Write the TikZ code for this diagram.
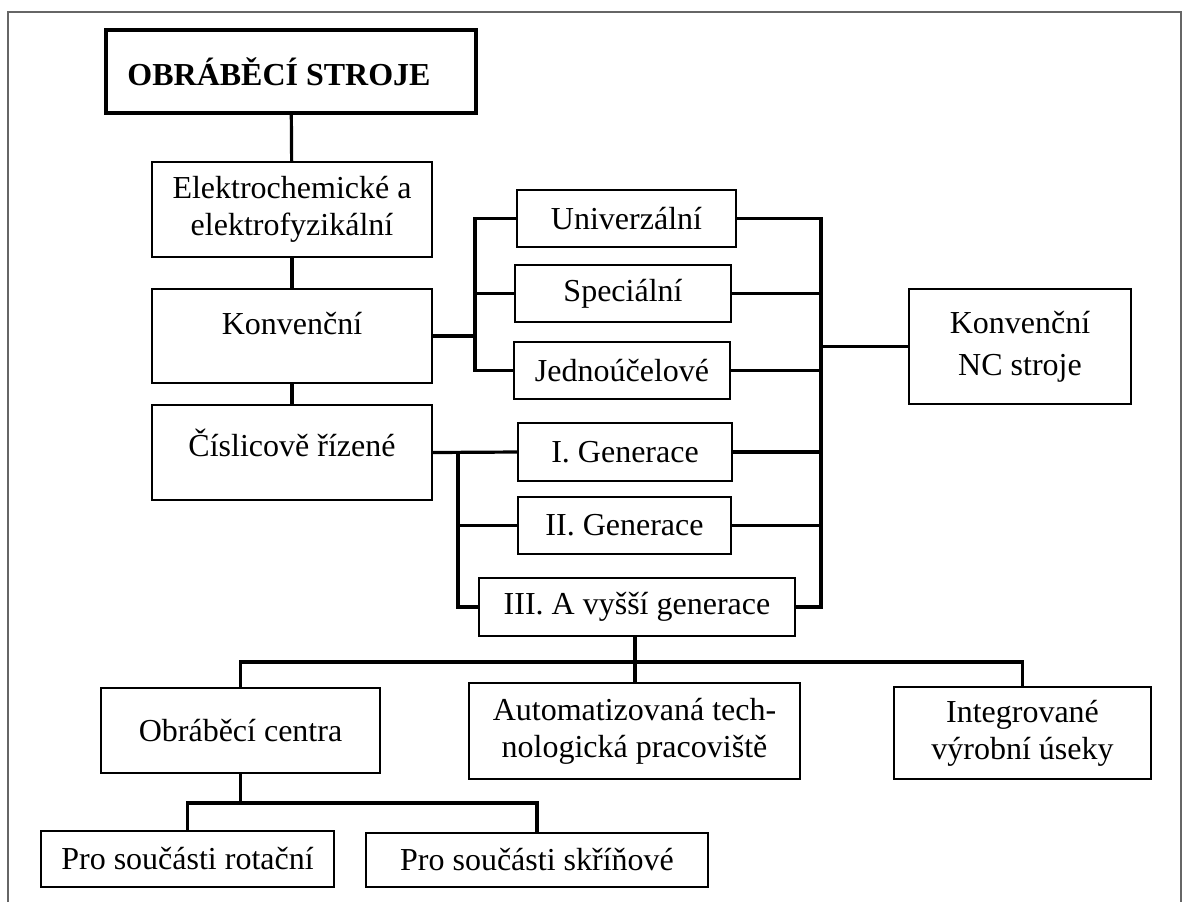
\documentclass[tikz,border=0pt]{standalone}
\usepackage{fontspec}
\setmainfont{Liberation Serif}
\usepackage{tikz}
\usetikzlibrary{positioning, calc}

\begin{document}
\begin{tikzpicture}[
    x=0.5pt, y=-0.5pt,
    box/.style={draw, line width=0.8pt, inner sep=1pt, align=center, font=\fontsize{16}{18.5}\selectfont},
    bigbox/.style={box, line width=2pt, font=\fontsize{16}{18.5}\selectfont\bfseries},
    ln/.style={line width=1.6pt},
    txtup/.style={text depth=#1},
]
\useasboundingbox (0,0) rectangle (1183,902);

% Frame
\draw[gray!80!black, line width=0.6pt] (8,902) -- (8,12) -- (1181,12) -- (1181,902);

% Main column
\node[bigbox, minimum width=185pt, minimum height=41.5pt] (stroje) at (291,71.5) {OBRÁBĚCÍ STROJE\hspace*{12pt}};
\node[box, minimum width=140pt, minimum height=47.5pt] (elektro) at (292,209.5) {Elektrochemické a\\elektrofyzikální};
\node[box, minimum width=140pt, minimum height=47pt, txtup=13pt] (konv) at (292,336) {Konvenční};
\node[box, minimum width=140pt, minimum height=47.5pt, txtup=10pt] (cisl) at (292,452.5) {Číslicově řízené};

\draw[ln] (stroje) -- (elektro);
\draw[ln] (elektro) -- (konv);
\draw[ln] (konv) -- (cisl);

% Conventional branch
\node[box, minimum width=109.5pt, minimum height=28.5pt] (univ) at (626.5,218.5) {Univerzální};
\node[box, minimum width=108pt, minimum height=28.5pt] (spec) at (623,293.5) {Speciální};
\node[box, minimum width=108pt, minimum height=28.5pt] (jedn) at (622,370.5) {Jednoúčelové};

\coordinate (kbus) at (475,336);
\draw[ln] (konv.east) -- (kbus);
\draw[ln] (univ.west) -| (kbus) |- (jedn.west);
\draw[ln] (spec.west) -- (spec.west -| kbus);

% NC branch
\node[box, minimum width=107pt, minimum height=29pt] (gen1) at (625,452) {I. Generace};
\node[box, minimum width=106.5pt, minimum height=28.5pt] (gen2) at (624.5,525.5) {II. Generace};
\node[box, minimum width=158pt, minimum height=29pt] (gen3) at (637,607) {III. A vyšší generace};

\coordinate (cbus) at (458,452);
\draw[ln] (cisl.east) -- (gen1.west);
\draw[ln] (cbus) |- (gen3.west);
\draw[ln] (gen2.west) -- (gen2.west -| cbus);

% Right collector
\node[box, minimum width=111pt, minimum height=57.5pt] (knc) at (1020,346.5) {Konvenční\\[2.5pt]NC stroje};

\coordinate (rbus) at (821,346.5);
\draw[ln] (univ.east) -| (rbus) |- (gen3.east);
\draw[ln] (spec.east) -- (spec.east -| rbus);
\draw[ln] (jedn.east) -- (jedn.east -| rbus);
\draw[ln] (gen1.east) -- (gen1.east -| rbus);
\draw[ln] (gen2.east) -- (gen2.east -| rbus);
\draw[ln] (rbus) -- (knc.west);

% Bottom row
\node[box, minimum width=139.5pt, minimum height=42.5pt] (centra) at (240.5,730.5) {Obráběcí centra};
\node[box, minimum width=165.5pt, minimum height=48pt] (auto) at (634.5,731) {Automatizovaná tech-\\nologická pracoviště};
\node[box, minimum width=128.5pt, minimum height=46pt] (integ) at (1022.5,733) {Integrované\\výrobní úseky};

\coordinate (hbus) at (635,662);
\draw[ln] (gen3.south -| hbus) -- (auto.north -| hbus);
\draw[ln] (centra.north) |- (hbus) -| (integ.north);

% Machining centres
\node[box, minimum width=146.5pt, minimum height=28pt] (rot) at (187.5,859) {Pro součásti rotační};
\node[box, minimum width=171pt, minimum height=27pt] (skr) at (537,860) {Pro součásti skříňové};

\coordinate (obus) at (240.5,803);
\draw[ln] (centra.south) -- (obus);
\draw[ln] (rot.north) |- (obus) -| (skr.north);

\end{tikzpicture}
\end{document}
